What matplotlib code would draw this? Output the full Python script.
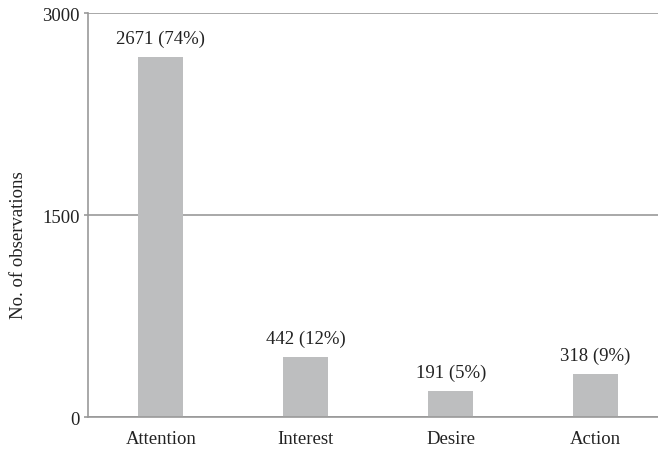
import matplotlib
matplotlib.use("Agg")
import matplotlib.pyplot as plt

categories = ["Attention", "Interest", "Desire", "Action"]
counts = [2671, 442, 191, 318]
shares = [74, 12, 5, 9]
yticks = [0, 1500, 3000]

plt.rcParams['font.family'] = ['Liberation Serif', 'DejaVu Serif']
fs = 13.5

fig = plt.figure(figsize=(6.58, 4.52), dpi=100)
ax = fig.add_axes([0.1337, 0.0752, 0.8663, 0.8938])

x = list(range(len(categories)))
ax.bar(x, counts, width=0.31, color="#bdbebf", zorder=2)
for xi, c, s in zip(x, counts, shares):
    ax.text(xi, c + 75, f"{c} ({s}%)", ha="center", va="bottom", fontsize=fs, color="#222222")

ax.set_xlim(-0.503, 3.43)
ax.set_ylim(0, 3000)
ax.set_xticks(x)
ax.set_xticklabels(categories, fontsize=fs, color="#222222")
ax.set_yticks(yticks)
ax.set_yticklabels([str(t) for t in yticks], fontsize=fs, color="#222222")
ax.tick_params(axis="x", length=0, pad=9)
ax.tick_params(axis="y", length=3, width=1.2, color="#999999", pad=3)
ax.yaxis.grid(True, color="#999999", linewidth=1.2, zorder=0)
ax.set_axisbelow(True)

for side in ["top", "right"]:
    ax.spines[side].set_visible(False)
for side in ["left", "bottom"]:
    ax.spines[side].set_color("#999999")
    ax.spines[side].set_linewidth(1.2)

# y label sits a bit below the axes centre in the reference
fig.text(18.5 / 658, 1 - 245 / 452, "No. of observations", rotation=90,
         ha="center", va="center", fontsize=fs, color="#222222")

fig.savefig("out.png", dpi=100)
